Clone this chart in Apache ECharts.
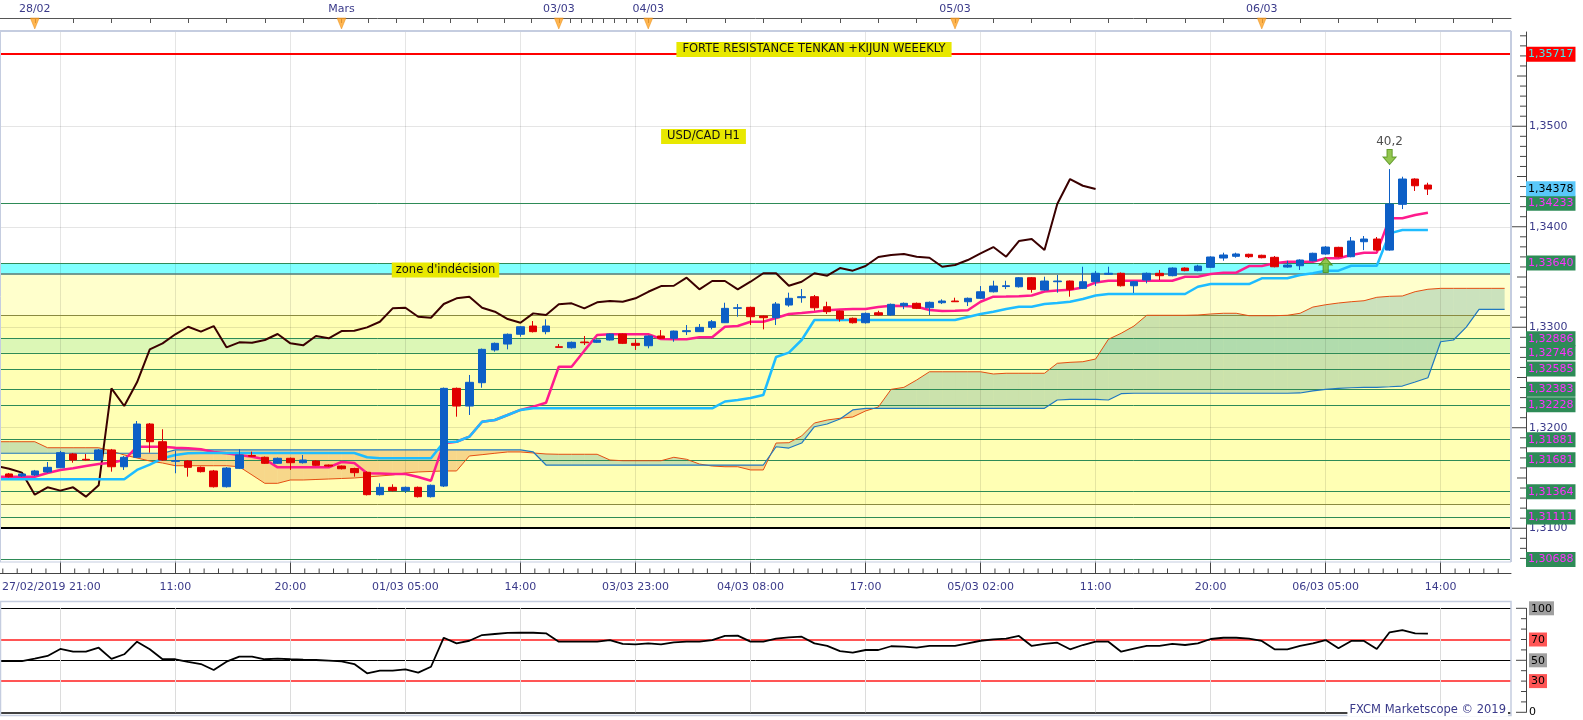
<!DOCTYPE html>
<html><head><meta charset="utf-8">
<script src="https://cdn.jsdelivr.net/npm/echarts@6/dist/echarts.min.js"></script>
<style>html,body{margin:0;padding:0;background:#fff;overflow:hidden;width:1583px;height:720px}#c{width:1583px;height:720px;position:absolute;left:0;top:0}</style>
</head><body><div id="c"></div>
<script>
// ---------- DATA (hourly candles, index 0 = 27/02 22:00) ----------
const openP = [1.31540,1.31520,1.31530,1.31560,1.31602,1.31739,1.31686,1.31679,1.31779,1.31612,
1.31706,1.32037,1.31861,1.31666,1.31669,1.31606,1.31570,1.31413,1.31596,1.31724,
1.31706,1.31646,1.31696,1.31652,1.31669,1.31629,1.31619,1.31594,1.31557,1.31334,
1.31407,1.31374,1.31407,1.31314,1.31420,1.32392,1.32216,1.32448,1.32774,1.32833,
1.32930,1.33012,1.32956,1.32806,1.32796,1.32853,1.32850,1.32873,1.32933,1.32840,
1.32816,1.32913,1.32890,1.32956,1.32956,1.32999,1.33045,1.33188,1.33198,1.33112,
1.33095,1.33221,1.33294,1.33304,1.33204,1.33162,1.33089,1.33045,1.33144,1.33122,
1.33214,1.33238,1.33194,1.33244,1.33261,1.33254,1.33288,1.33353,1.33405,1.33403,
1.33493,1.33370,1.33453,1.33460,1.33387,1.33453,1.33527,1.33537,1.33413,1.33470,
1.33537,1.33513,1.33589,1.33563,1.33596,1.33689,1.33706,1.33726,1.33716,1.33696,
1.33599,1.33612,1.33662,1.33729,1.33795,1.33702,1.33851,1.33878,1.33768,1.34223,
1.34475,1.34415];
const highP = [1.31550,1.31550,1.31580,1.31659,1.31769,1.31749,1.31739,1.31789,1.31789,1.31719,
1.32067,1.32047,1.31985,1.31772,1.31679,1.31614,1.31580,1.31609,1.31786,1.31762,
1.31714,1.31704,1.31704,1.31729,1.31679,1.31634,1.31624,1.31602,1.31565,1.31447,
1.31437,1.31415,1.31415,1.31435,1.32400,1.32400,1.32525,1.32788,1.32848,1.32938,
1.33012,1.33062,1.33079,1.32833,1.32858,1.32913,1.32878,1.32938,1.32938,1.32880,
1.32918,1.32972,1.32967,1.33022,1.33032,1.33072,1.33244,1.33231,1.33206,1.33117,
1.33251,1.33344,1.33380,1.33321,1.33254,1.33167,1.33097,1.33147,1.33164,1.33236,
1.33246,1.33246,1.33256,1.33278,1.33294,1.33296,1.33410,1.33463,1.33463,1.33500,
1.33500,1.33503,1.33520,1.33465,1.33602,1.33560,1.33602,1.33545,1.33460,1.33545,
1.33570,1.33596,1.33596,1.33622,1.33706,1.33742,1.33742,1.33732,1.33722,1.33709,
1.33662,1.33676,1.33742,1.33808,1.33801,1.33898,1.33908,1.33898,1.34574,1.34498,
1.34482,1.34438];
const lowP = [1.31505,1.31510,1.31520,1.31550,1.31599,1.31652,1.31669,1.31669,1.31563,1.31580,
1.31699,1.31752,1.31669,1.31547,1.31513,1.31555,1.31405,1.31405,1.31589,1.31709,
1.31639,1.31639,1.31580,1.31644,1.31619,1.31612,1.31585,1.31513,1.31326,1.31326,
1.31366,1.31351,1.31306,1.31306,1.31410,1.32110,1.32127,1.32398,1.32757,1.32780,
1.32906,1.32948,1.32930,1.32796,1.32788,1.32823,1.32843,1.32868,1.32833,1.32774,
1.32790,1.32883,1.32856,1.32923,1.32953,1.32979,1.33042,1.33105,1.33022,1.32979,
1.33022,1.33204,1.33244,1.33165,1.33132,1.33055,1.33037,1.33037,1.33115,1.33115,
1.33180,1.33181,1.33122,1.33231,1.33251,1.33211,1.33281,1.33346,1.33380,1.33395,
1.33344,1.33364,1.33344,1.33304,1.33380,1.33410,1.33520,1.33405,1.33341,1.33437,
1.33470,1.33507,1.33557,1.33557,1.33589,1.33662,1.33692,1.33689,1.33686,1.33596,
1.33592,1.33570,1.33656,1.33722,1.33696,1.33696,1.33768,1.33762,1.33762,1.34176,
1.34356,1.34316];
const closeP = [1.31513,1.31540,1.31570,1.31606,1.31752,1.31679,1.31679,1.31779,1.31612,1.31706,
1.32037,1.31861,1.31679,1.31672,1.31606,1.31563,1.31413,1.31599,1.31729,1.31716,
1.31646,1.31696,1.31652,1.31679,1.31626,1.31619,1.31592,1.31553,1.31334,1.31407,
1.31374,1.31407,1.31314,1.31427,1.32392,1.32216,1.32452,1.32780,1.32840,1.32930,
1.33005,1.32956,1.33012,1.32800,1.32850,1.32846,1.32873,1.32933,1.32840,1.32820,
1.32913,1.32890,1.32962,1.32966,1.32999,1.33055,1.33188,1.33194,1.33105,1.33095,
1.33231,1.33288,1.33304,1.33194,1.33155,1.33082,1.33045,1.33138,1.33122,1.33228,
1.33238,1.33188,1.33248,1.33261,1.33254,1.33288,1.33353,1.33410,1.33413,1.33493,
1.33377,1.33460,1.33460,1.33377,1.33453,1.33537,1.33537,1.33413,1.33453,1.33537,
1.33513,1.33589,1.33563,1.33609,1.33699,1.33719,1.33729,1.33702,1.33692,1.33602,
1.33619,1.33669,1.33736,1.33798,1.33702,1.33858,1.33878,1.33768,1.34226,1.34475,
1.34408,1.34375];

// Ichimoku lines (first value at index -1)
const tenkan = [1.31513,
1.31513,1.31513,1.31513,1.31550,1.31580,1.31597,1.31619,1.31639,1.31652,1.31679,
1.31811,1.31811,1.31811,1.31801,1.31795,1.31785,1.31759,1.31746,1.31729,1.31712,
1.31686,1.31606,1.31606,1.31606,1.31606,1.31606,1.31659,1.31649,1.31547,1.31545,
1.31540,1.31540,1.31510,1.31473,1.31845,1.31861,1.31911,1.32060,1.32077,1.32127,
1.32177,1.32210,1.32249,1.32607,1.32607,1.32767,1.32923,1.32930,1.32930,1.32930,
1.32930,1.32883,1.32880,1.32880,1.32900,1.32900,1.33005,1.33012,1.33055,1.33055,
1.33092,1.33132,1.33142,1.33155,1.33169,1.33177,1.33182,1.33182,1.33201,1.33214,
1.33211,1.33204,1.33172,1.33162,1.33165,1.33169,1.33254,1.33304,1.33306,1.33309,
1.33316,1.33356,1.33366,1.33374,1.33395,1.33445,1.33463,1.33463,1.33463,1.33463,
1.33463,1.33463,1.33503,1.33503,1.33530,1.33543,1.33543,1.33609,1.33609,1.33636,
1.33652,1.33652,1.33652,1.33686,1.33686,1.33719,1.33742,1.33742,1.34084,1.34084,
1.34117,1.34140];
const kijun = [1.31487,
1.31487,1.31487,1.31487,1.31487,1.31487,1.31487,1.31487,1.31487,1.31487,1.31487,
1.31580,1.31633,1.31696,1.31729,1.31746,1.31749,1.31749,1.31749,1.31749,1.31749,
1.31749,1.31749,1.31749,1.31749,1.31749,1.31749,1.31749,1.31749,1.31706,1.31696,
1.31696,1.31696,1.31696,1.31696,1.31858,1.31861,1.31911,1.32060,1.32077,1.32127,
1.32177,1.32193,1.32193,1.32193,1.32193,1.32193,1.32193,1.32193,1.32193,1.32193,
1.32193,1.32193,1.32193,1.32193,1.32193,1.32193,1.32261,1.32276,1.32296,1.32326,
1.32704,1.32747,1.32873,1.33072,1.33072,1.33072,1.33072,1.33072,1.33072,1.33072,
1.33072,1.33072,1.33072,1.33072,1.33072,1.33102,1.33132,1.33155,1.33182,1.33204,
1.33204,1.33231,1.33241,1.33254,1.33281,1.33316,1.33331,1.33331,1.33331,1.33331,
1.33331,1.33331,1.33331,1.33403,1.33430,1.33430,1.33430,1.33430,1.33487,1.33487,
1.33487,1.33520,1.33537,1.33563,1.33563,1.33612,1.33612,1.33612,1.33934,1.33967,
1.33967,1.33967];
const chikou = [1.31619,
1.31592,1.31553,1.31334,1.31407,1.31374,1.31407,1.31314,1.31427,1.32392,1.32216,
1.32452,1.32780,1.32840,1.32930,1.33005,1.32956,1.33012,1.32800,1.32850,1.32846,
1.32873,1.32933,1.32840,1.32820,1.32913,1.32890,1.32962,1.32966,1.32999,1.33055,
1.33188,1.33194,1.33105,1.33095,1.33231,1.33288,1.33304,1.33194,1.33155,1.33082,
1.33045,1.33138,1.33122,1.33228,1.33238,1.33188,1.33248,1.33261,1.33254,1.33288,
1.33353,1.33410,1.33413,1.33493,1.33377,1.33460,1.33460,1.33377,1.33453,1.33537,
1.33537,1.33413,1.33453,1.33537,1.33513,1.33589,1.33563,1.33609,1.33699,1.33719,
1.33729,1.33702,1.33692,1.33602,1.33619,1.33669,1.33736,1.33798,1.33702,1.33858,
1.33878,1.33768,1.34226,1.34475,1.34408,1.34375];
const senkouA = [1.31861,
1.31861,1.31861,1.31861,1.31801,1.31801,1.31801,1.31801,1.31801,1.31769,1.31729,
1.31699,1.31669,1.31649,1.31622,1.31622,1.31622,1.31622,1.31622,1.31612,1.31530,
1.31447,1.31447,1.31480,1.31480,1.31485,1.31490,1.31495,1.31500,1.31510,1.31520,
1.31530,1.31550,1.31560,1.31565,1.31570,1.31570,1.31719,1.31732,1.31746,1.31759,
1.31759,1.31749,1.31739,1.31736,1.31736,1.31736,1.31736,1.31679,1.31672,1.31672,
1.31672,1.31672,1.31706,1.31686,1.31639,1.31619,1.31612,1.31612,1.31580,1.31580,
1.31848,1.31851,1.31918,1.32047,1.32077,1.32094,1.32107,1.32167,1.32206,1.32382,
1.32402,1.32475,1.32557,1.32557,1.32557,1.32557,1.32557,1.32535,1.32542,1.32542,
1.32542,1.32542,1.32641,1.32651,1.32657,1.32684,1.32880,1.32940,1.33012,1.33119,
1.33119,1.33119,1.33119,1.33122,1.33132,1.33139,1.33139,1.33115,1.33115,1.33115,
1.33119,1.33139,1.33201,1.33224,1.33241,1.33254,1.33264,1.33298,1.33308,1.33311,
1.33354,1.33378,1.33387,1.33387,1.33387,1.33387,1.33387,1.33387];
const senkouB = [1.31746,
1.31746,1.31746,1.31746,1.31746,1.31746,1.31746,1.31746,1.31746,1.31746,1.31746,
1.31746,1.31746,1.31746,1.31779,1.31779,1.31779,1.31779,1.31779,1.31779,1.31779,
1.31779,1.31779,1.31779,1.31779,1.31779,1.31779,1.31779,1.31779,1.31779,1.31779,
1.31779,1.31779,1.31779,1.31779,1.31779,1.31779,1.31779,1.31779,1.31779,1.31779,
1.31779,1.31759,1.31629,1.31629,1.31629,1.31629,1.31629,1.31629,1.31629,1.31629,
1.31629,1.31629,1.31629,1.31629,1.31629,1.31629,1.31629,1.31629,1.31629,1.31629,
1.31811,1.31798,1.31848,1.32010,1.32037,1.32087,1.32177,1.32193,1.32193,1.32193,
1.32193,1.32193,1.32193,1.32193,1.32193,1.32193,1.32193,1.32193,1.32193,1.32193,
1.32193,1.32193,1.32276,1.32283,1.32283,1.32283,1.32276,1.32339,1.32343,1.32343,
1.32343,1.32343,1.32343,1.32343,1.32343,1.32343,1.32343,1.32343,1.32343,1.32343,
1.32343,1.32346,1.32366,1.32382,1.32392,1.32398,1.32402,1.32402,1.32408,1.32415,
1.32455,1.32498,1.32856,1.32873,1.33002,1.33178,1.33178,1.33178];

// RSI (first value at index -1)
const rsi = [49.3,
49.3,49.3,51.6,54.2,60.9,58.3,58.3,62.1,51.3,55.8,
67.9,60.6,51.0,51.0,48.4,46.4,40.7,48.7,53.5,53.5,
51.0,51.6,51.0,50.6,50.3,49.7,49.0,46.4,37.5,40.0,
40.0,41.3,38.1,43.8,71.7,66.3,68.8,74.3,75.3,76.3,
76.5,76.5,75.9,67.9,67.9,67.9,67.9,69.5,65.7,65.4,
66.3,65.4,67.3,67.9,67.9,69.5,73.4,73.7,67.9,67.9,
70.8,72.1,72.7,66.3,63.8,58.9,57.3,59.9,59.9,63.5,
63.1,62.1,63.8,63.8,63.8,66.3,68.8,70.2,70.8,73.4,
63.8,65.7,66.9,60.6,64.7,67.9,67.9,58.3,61.2,63.8,
63.8,65.7,64.7,66.3,70.5,71.7,71.7,70.8,68.6,60.6,
60.6,63.8,66.3,69.5,61.5,68.6,68.6,60.9,76.9,79.1,
75.9,75.6];
const rsiLevels = [100, 70, 50, 30, 0];

// horizontal price levels
const levelValues = [1.35717,1.34233,1.33640,1.32886,1.32746,1.32585,1.32383,1.32228,1.31881,1.31681,1.31364,1.31111,1.30688];
const lastPrice = 1.34378;
const plainLevels = [1.33535, 1.33122, 1.31241, 1.31000];
const zoneBounds = [[1.31000,1.31241],[1.31241,1.33122],[1.33122,1.33535],[1.32746,1.32886],[1.33535,1.33640]];

// signals
const signalIdx = [108, 103];
const signalPrice = [1.34694, 1.33619];
const signalText = ['40,2', ''];

// axis labels
const xLabelPos = [3.3,13,22,31,40,49,58,67,76,85,94,103,112];
const xLabelText = ['27/02/2019 21:00','11:00','20:00','01/03 05:00','14:00','03/03 23:00','04/03 08:00','17:00','05/03 02:00','11:00','20:00','06/03 05:00','14:00'];
const dayStart = [2, 26, 43, 50, 74, 98];
const dayLabels = ['28/02','Mars','03/03','04/03','05/03','06/03'];
const yLabelValues = [1.31,1.32,1.33,1.34,1.35];

// ---------- BUILD ----------
const XMIN = -0.72, XMAX = 117.5, YMIN = 1.30669, YMAX = 1.35938;
const F = 'DejaVu Sans', AXC = '#3a3a8a';
const pairs = (arr, s) => arr.map((v, k) => [s + k, v]);
const fmt5 = v => v.toFixed(5).replace('.', ',');

const majorX = []; for (let k = 4; k <= XMAX; k += 9) majorX.push(k);
const minorX = [];
for (let m = majorX[0] - 9; m <= XMAX; m += 9) for (let j = 1; j < 8; j++) { const v = m + j * 1.125; if (v >= XMIN && v <= XMAX) minorX.push([v, 0]); }
const topTicks = [];
const dayEnd = dayStart.slice(1).concat([122]);
dayStart.forEach((s, d) => { const len = dayEnd[d] - s; for (let k = 0; k < 8; k++) { const v = s + k * len / 8; if (v <= XMAX) topTicks.push(v); } });
const yTicks = []; for (let k = 1307; k <= 1359; k++) yTicks.push([k / 1000, k % 10 === 0 ? 15 : (k % 5 === 0 ? 9 : 6)]);
const rsiTicks = []; for (let k = 0; k <= 100; k += 10) rsiTicks.push([k, k % 50 === 0 ? 10 : 5]);

const candles = openP.map((o, i) => [i, o, closeP[i], lowP[i], highP[i]]);
const cloudData = [];
for (let k = 0; k < senkouA.length - 1; k++) cloudData.push([k - 1, senkouA[k], senkouB[k], senkouA[k + 1], senkouB[k + 1]]);

const zoneColors = ['#ffffcc', '#ffffb4', '#ffffcc', '#dcf7b6', '#80ffff'];
const GL = { color: 'rgba(0,0,0,0.1)', width: 1, type: 'solid' };
const mainLines = majorX.map(x => ({ xAxis: x, lineStyle: GL, label: { show: false } }))
  .concat(yLabelValues.map(v => ({ yAxis: v, lineStyle: GL, label: { show: false } })));
const plainStyles = [{ color: '#4a7a7a', width: 1.5 }, { color: '#8a8a40', width: 1 }, { color: '#8a8a40', width: 1 }, { color: '#000', width: 2 }];
plainLevels.forEach((v, k) => mainLines.push({ yAxis: v, lineStyle: Object.assign({ type: 'solid' }, plainStyles[k]), label: { show: false } }));
levelValues.forEach((v, k) => mainLines.push({
  yAxis: v,
  lineStyle: k === 0 ? { color: '#ff0000', width: 2, type: 'solid' } : { color: '#2e8b57', width: 1, type: 'solid' },
  label: { show: true, position: 'end', distance: 15, formatter: fmt5(v),
    backgroundColor: k === 0 ? '#ff0000' : '#2e8b57', color: k === 0 ? '#40f0f0' : '#ff30ff',
    fontFamily: F, fontSize: 11, lineHeight: 12, padding: [2, 2, 1, 2] }
}));
mainLines.push({ yAxis: lastPrice, lineStyle: { color: 'rgba(0,0,0,0)', width: 1 },
  label: { show: true, position: 'end', distance: 15, formatter: fmt5(lastPrice), backgroundColor: '#5ac8fa', color: '#000',
    fontFamily: F, fontSize: 11, lineHeight: 12, padding: [2, 2, 1, 2] } });

const downArrow = 'path://M3,0L7,0L7,6L10,6L5,12L0,6L3,6Z';
const upArrow = 'path://M5,0L10,6L7,6L7,12L3,12L3,6L0,6Z';
const noZero = (color) => ({ show: true, onZero: false, lineStyle: { color } });

const option = {
  animation: false,
  backgroundColor: '#fff',
  grid: [
    { left: 0, right: 72, top: 18, height: 13, containLabel: false, outerBoundsMode: 'none' },
    { left: 0, right: 72, top: 32, height: 529.5, containLabel: false, outerBoundsMode: 'none' },
    { left: 0, right: 72, top: 608.3, height: 104, containLabel: false, outerBoundsMode: 'none' }
  ],
  xAxis: [
    { gridIndex: 0, type: 'value', min: XMIN, max: XMAX, position: 'top',
      axisLine: noZero('#555'),
      axisTick: { show: true, inside: true, length: 5, customValues: topTicks, lineStyle: { color: '#555' } },
      axisLabel: { show: true, customValues: dayStart, margin: 3, color: AXC, fontFamily: F, fontSize: 11,
        formatter: v => dayLabels[dayStart.indexOf(v)] || '' },
      splitLine: { show: false } },
    { gridIndex: 1, type: 'value', min: XMIN, max: XMAX, position: 'bottom', offset: 12,
      axisLine: noZero('#444'),
      axisTick: { show: true, inside: true, length: 12, customValues: majorX, lineStyle: { color: '#444' } },
      axisLabel: { show: true, customValues: xLabelPos, margin: 8, color: AXC, fontFamily: F, fontSize: 11,
        formatter: v => xLabelText[xLabelPos.indexOf(v)] || '' },
      splitLine: { show: false } },
    { gridIndex: 2, type: 'value', min: XMIN, max: XMAX, show: false, axisLine: { onZero: false } }
  ],
  yAxis: [
    { gridIndex: 0, type: 'value', min: 0, max: 1, show: false, axisLine: { onZero: false } },
    { gridIndex: 1, type: 'value', min: YMIN, max: YMAX, position: 'right', offset: 15,
      axisLine: noZero('#444'),
      axisTick: { show: false },
      axisLabel: { show: true, customValues: yLabelValues, margin: 3, color: AXC, fontFamily: F, fontSize: 11,
        formatter: v => v.toFixed(4).replace('.', ',') },
      splitLine: { show: false } },
    { gridIndex: 2, type: 'value', min: 0, max: 100, position: 'right', offset: 15,
      axisLine: noZero('#444'),
      axisTick: { show: false },
      axisLabel: { show: true, customValues: rsiLevels, margin: 3, fontFamily: F, fontSize: 11,
        formatter: v => (v === 100 || v === 50) ? '{g|' + v + '}' : (v === 70 || v === 30) ? '{r|' + v + '}' : '{n|' + v + '}',
        rich: {
          g: { backgroundColor: '#a0a0a0', color: '#000', padding: [2, 2, 1, 2], fontFamily: F, fontSize: 11 },
          r: { backgroundColor: '#ff5555', color: '#000', padding: [2, 2, 1, 2], fontFamily: F, fontSize: 11 },
          n: { color: '#000', fontFamily: F, fontSize: 11 }
        } },
      splitLine: { show: false } }
  ],
  series: [
    { name: 'days', type: 'scatter', xAxisIndex: 0, yAxisIndex: 0, z: 5,
      data: dayStart.map(i => [i, 0.58]), symbol: 'triangle', symbolRotate: 180, symbolSize: [9, 11],
      itemStyle: { color: '#ffa224', borderColor: '#e08000', borderWidth: 0.5 }, silent: true },
    { name: 'senkouA', type: 'line', xAxisIndex: 1, yAxisIndex: 1, z: 4, data: pairs(senkouA, -1),
      showSymbol: false, symbol: 'none', lineStyle: { color: '#e44e12', width: 1 }, clip: true,
      markArea: { z: 1, silent: true, label: { show: false },
        data: zoneBounds.map((b, k) => [{ yAxis: b[0], itemStyle: { color: zoneColors[k] } }, { yAxis: b[1] }]) } },
    { name: 'cloud', type: 'custom', xAxisIndex: 1, yAxisIndex: 1, z: 2, clip: true, silent: true,
      data: cloudData,
      renderItem: (params, api) => {
        const i = api.value(0), a0 = api.value(1), b0 = api.value(2), a1 = api.value(3), b1 = api.value(4);
        const P = (x, y) => api.coord([x, y]);
        const G = 'rgba(70,150,150,0.28)', T = 'rgba(235,160,80,0.42)';
        const d0 = a0 - b0, d1 = a1 - b1;
        const ch = [];
        if (d0 * d1 >= 0) {
          ch.push({ type: 'polygon', shape: { points: [P(i, a0), P(i + 1, a1), P(i + 1, b1), P(i, b0)] }, style: { fill: (d0 + d1) >= 0 ? G : T } });
        } else {
          const t = d0 / (d0 - d1), xm = i + t, ym = a0 + (a1 - a0) * t;
          ch.push({ type: 'polygon', shape: { points: [P(i, a0), P(xm, ym), P(i, b0)] }, style: { fill: d0 > 0 ? G : T } });
          ch.push({ type: 'polygon', shape: { points: [P(xm, ym), P(i + 1, a1), P(i + 1, b1)] }, style: { fill: d1 > 0 ? G : T } });
        }
        return { type: 'group', children: ch };
      } },
    { name: 'senkouB', type: 'line', xAxisIndex: 1, yAxisIndex: 1, z: 4, data: pairs(senkouB, -1),
      showSymbol: false, symbol: 'none', lineStyle: { color: '#1f78c0', width: 1.2 }, clip: true,
      markLine: { z: 3, silent: true, symbol: ['none', 'none'], precision: 5, data: mainLines } },
    { name: 'chikou', type: 'line', xAxisIndex: 1, yAxisIndex: 1, z: 5, data: pairs(chikou, -1),
      showSymbol: false, symbol: 'none', lineStyle: { color: '#3a0000', width: 2 }, clip: true },
    { name: 'tenkan', type: 'line', xAxisIndex: 1, yAxisIndex: 1, z: 5, data: pairs(tenkan, -1),
      showSymbol: false, symbol: 'none', lineStyle: { color: '#ff1b8d', width: 2.5 }, clip: true },
    { name: 'kijun', type: 'line', xAxisIndex: 1, yAxisIndex: 1, z: 5, data: pairs(kijun, -1),
      showSymbol: false, symbol: 'none', lineStyle: { color: '#1ebcff', width: 2.5 }, clip: true },
    { name: 'USD/CAD', type: 'candlestick', xAxisIndex: 1, yAxisIndex: 1, z: 6, data: candles, clip: true,
      encode: { x: 0, y: [1, 2, 3, 4] }, barWidth: 8,
      itemStyle: { color: '#0d5fc6', color0: '#e00000', borderColor: '#0d5fc6', borderColor0: '#e00000', borderWidth: 1 } },
    { name: 'signals', type: 'scatter', xAxisIndex: 1, yAxisIndex: 1, z: 7, silent: true,
      data: signalIdx.map((x, k) => ({ value: [x, signalPrice[k]], symbol: k === 0 ? downArrow : upArrow,
        label: { show: !!signalText[k], formatter: signalText[k], position: 'top', distance: 1, color: '#222', fontFamily: F, fontSize: 12 } })),
      symbolSize: [13, 15], itemStyle: { color: '#78b824', borderColor: '#4a8a10', borderWidth: 1 } },
    { name: 'yTicks', type: 'custom', xAxisIndex: 1, yAxisIndex: 1, z: 8, clip: false, silent: true,
      data: yTicks, encode: { y: 0, x: 1 },
      renderItem: (params, api) => {
        const p = api.coord([XMAX, api.value(0)]);
        const x2 = p[0] + 15;
        return { type: 'line', shape: { x1: x2 - api.value(1), y1: p[1], x2: x2, y2: p[1] }, style: { stroke: '#444', lineWidth: 1 } };
      } },
    { name: 'xMinorTicks', type: 'custom', xAxisIndex: 1, yAxisIndex: 1, z: 8, clip: false, silent: true,
      data: minorX, encode: { x: 0, y: 1 },
      renderItem: (params, api) => {
        const p = api.coord([api.value(0), YMIN]);
        return { type: 'line', shape: { x1: p[0], y1: p[1] + 7, x2: p[0], y2: p[1] + 12 }, style: { stroke: '#444', lineWidth: 1 } };
      } },
    { name: 'RSI', type: 'line', xAxisIndex: 2, yAxisIndex: 2, z: 6, data: pairs(rsi, -1),
      showSymbol: false, symbol: 'none', lineStyle: { color: '#000', width: 1.8 }, clip: true,
      markLine: { z: 1, silent: true, symbol: ['none', 'none'], label: { show: false },
        data: [
          { yAxis: 100, lineStyle: { color: '#000', width: 1, type: 'solid' } },
          { yAxis: 70, lineStyle: { color: '#ff5555', width: 2, type: 'solid' } },
          { yAxis: 50, lineStyle: { color: '#000', width: 1, type: 'solid' } },
          { yAxis: 30, lineStyle: { color: '#ff5555', width: 2, type: 'solid' } },
          { yAxis: 0, lineStyle: { color: '#000', width: 1.5, type: 'solid' } }
        ].concat(majorX.map(x => ({ xAxis: x, lineStyle: { color: '#dcdcdc', width: 1, type: 'solid' } }))) } },
    { name: 'rsiTicks', type: 'custom', xAxisIndex: 2, yAxisIndex: 2, z: 8, clip: false, silent: true,
      data: rsiTicks, encode: { y: 0, x: 1 },
      renderItem: (params, api) => {
        const p = api.coord([XMAX, api.value(0)]);
        const x2 = p[0] + 15;
        return { type: 'line', shape: { x1: x2 - api.value(1), y1: p[1], x2: x2, y2: p[1] }, style: { stroke: '#444', lineWidth: 1 } };
      } }
  ],
  graphic: { elements: [
    { type: 'line', z: 100, silent: true, shape: { x1: 0, y1: 31, x2: 1511, y2: 31 }, style: { stroke: '#c5cde0', lineWidth: 2 } },
    { type: 'line', z: 100, silent: true, shape: { x1: 1511, y1: 31, x2: 1511, y2: 562 }, style: { stroke: '#c5cde0', lineWidth: 2 } },
    { type: 'line', z: 100, silent: true, shape: { x1: 0.5, y1: 31, x2: 0.5, y2: 562 }, style: { stroke: '#c5cde0', lineWidth: 1 } },
    { type: 'line', z: 100, silent: true, shape: { x1: 0, y1: 562, x2: 1511, y2: 562 }, style: { stroke: '#c5cde0', lineWidth: 1 } },
    { type: 'rect', z: 100, silent: true, shape: { x: 0.5, y: 601.5, width: 1510.5, height: 114 }, style: { fill: 'none', stroke: '#c5cde0', lineWidth: 1.5 } },
    { type: 'text', z: 110, silent: true, x: 814, y: 49.5,
      style: { text: 'FORTE RESISTANCE TENKAN +KIJUN WEEEKLY', fill: '#111', font: '11.5px "DejaVu Sans"', align: 'center', verticalAlign: 'middle', backgroundColor: '#e8e800', padding: [2, 6, 1, 6] } },
    { type: 'text', z: 110, silent: true, x: 703.5, y: 136.5,
      style: { text: 'USD/CAD H1', fill: '#111', font: '11.5px "DejaVu Sans"', align: 'center', verticalAlign: 'middle', backgroundColor: '#e8e800', padding: [2, 6, 1, 6] } },
    { type: 'text', z: 110, silent: true, x: 445.5, y: 270,
      style: { text: "zone d'indécision", fill: '#111', font: '11.5px "DejaVu Sans"', align: 'center', verticalAlign: 'middle', backgroundColor: '#e8e800', padding: [2, 4, 1, 4] } },
    { type: 'text', z: 110, silent: true, x: 1508, y: 710.5,
      style: { text: 'FXCM Marketscope © 2019', fill: AXC, font: '11.5px "DejaVu Sans"', align: 'right', verticalAlign: 'middle', backgroundColor: '#fff', padding: [0, 2, 0, 2] } }
  ] }
};
const chart = echarts.init(document.getElementById('c'), null, { width: 1583, height: 720 });
chart.setOption(option);
</script></body></html>
